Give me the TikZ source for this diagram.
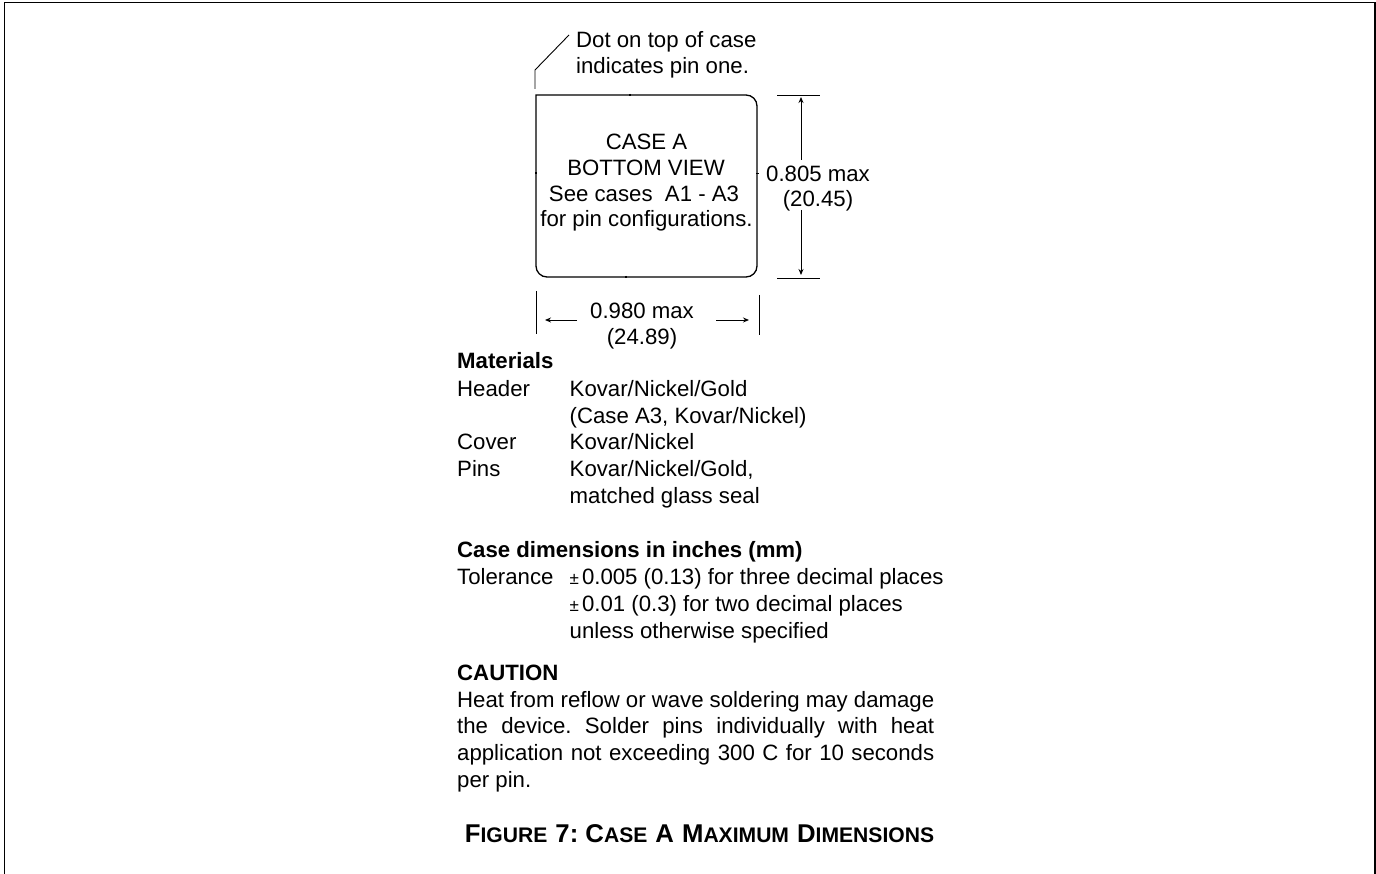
\documentclass[tikz,border=0pt]{standalone}
\usepackage{fontspec}
\usetikzlibrary{arrows.meta}
\setmainfont{Liberation Sans}
\frenchspacing
\newcommand{\bodysize}{\fontsize{22.2}{26.9}\selectfont}
\newcommand{\titlecaps}[2]{{\fontsize{25.7}{28}\selectfont #1}{\fontsize{21.1}{28}\selectfont #2}}
\newcommand{\plusminus}{{\fontsize{17}{20}\selectfont ±}\kern3pt}
\begin{document}
\begin{tikzpicture}[x=1pt,y=-1pt,>={Stealth[length=6pt,width=5pt]},
    txt/.style={anchor=base west,inner sep=0pt,font=\bodysize},
    ctr/.style={anchor=base,inner sep=0pt,font=\bodysize},
    head/.style={txt,font=\bodysize\bfseries},
    outline/.style={line width=1.3pt},
    thin line/.style={line width=0.9pt}]
  \useasboundingbox (0,0) rectangle (1376,874);
  \draw [line width=1.4pt] (4.5,874)--(4.5,2.5)--(1375,2.5)--(1375,874);
  % leader to pin one
  \coordinate (lead0) at (535,89);
  \coordinate (lead1) at (535,70);
  \coordinate (lead2) at (569,35);
  \draw [thin line] (lead0)--(lead1)--(lead2);
  \node [txt] (dot1) at (576,48) {Dot on top of case};
  \node [txt] (dot2) at (576,74) {indicates pin one.};
  % case outline
  \draw [outline] (536,95) [rounded corners=11pt] -- (757,95) -- (757,277) -- (536,277) -- (536,200) [sharp corners] -- (536,95) -- (560,95);
  \draw [outline] (630,94)--(630,96);
  \draw [outline] (626,276)--(626,278);
  \draw [outline] (535,173)--(537,173);
  \draw [thin line] (756,173)--(759,173);
  \node [ctr] (case1) at (646.5,150) {CASE A};
  \node [ctr] (case2) at (646,176) {BOTTOM VIEW};
  \node [ctr] (case3) at (644,201.5) {See cases~ A1 - A3};
  \node [ctr] (case4) at (646.5,226.5) {for pin configurations.};
  % height
  \coordinate (htop0) at (777,95); \coordinate (htop1) at (820,95);
  \coordinate (hbot0) at (777,278); \coordinate (hbot1) at (820,278);
  \draw [thin line] (htop0)--(htop1);
  \draw [thin line] (hbot0)--(hbot1);
  \node [ctr] (hval1) at (818,182) {0.805 max};
  \node [ctr] (hval2) at (818,207) {(20.45)};
  \draw [thin line,->] (801,160)--(801,97);
  \draw [thin line,->] (801,210)--(801,275);
  % width
  \draw [thin line] (536.5,291)--(536.5,334);
  \draw [thin line] (759.5,295)--(759.5,335);
  \node [ctr] (wval1) at (642,319) {0.980 max};
  \node [ctr] (wval2) at (642,345) {(24.89)};
  \draw [thin line,->] (577,320)--(545,320);
  \draw [thin line,->] (716,320)--(749,320);
  % materials
  \node [head] (mat) at (457,369) {Materials};
  \node [txt] (hdr) at (457,396) {Header};
  \node [txt] (hdr1) at (569.5,396) {Kovar/Nickel/Gold};
  \node [txt] (hdr2) at (569.5,423) {(Case A3, Kovar/Nickel)};
  \node [txt] (cov) at (457,449) {Cover};
  \node [txt] (cov1) at (569.5,449) {Kovar/Nickel};
  \node [txt] (pin) at (457,476) {Pins};
  \node [txt] (pin1) at (569.5,476) {Kovar/Nickel/Gold,};
  \node [txt] (pin2) at (569.5,503) {matched glass seal};
  % dimensions
  \node [head] (dim) at (457,557) {Case dimensions in inches (mm)};
  \node [txt] (tol) at (457,584) {Tolerance};
  \node [txt] (tol1) at (569.5,584) {\plusminus 0.005 (0.13) for three decimal places};
  \node [txt] (tol2) at (569.5,611) {\plusminus 0.01 (0.3) for two decimal places};
  \node [txt] (tol3) at (569.5,638) {unless otherwise specified};
  % caution
  \node [head] (cau) at (457,680) {CAUTION};
  \node [txt] (cau1) at (457,707) {\hbox to 477pt{Heat from reflow or wave soldering may damage}};
  \node [txt] (cau2) at (457,733.5) {\hbox to 477pt{the device. Solder pins individually with heat}};
  \node [txt] (cau3) at (457,760) {\hbox to 477pt{application not exceeding 300 C for 10 seconds}};
  \node [txt] (cau4) at (457,787) {per pin.};
  \node [anchor=base,inner sep=0pt,font=\bfseries\fontsize{29}{30}\selectfont] (fig) at (699.5,842.5)
    {\titlecaps{F}{IGURE} \titlecaps{7: C}{ASE} \titlecaps{A}{} \titlecaps{M}{AXIMUM} \titlecaps{D}{IMENSIONS}};
\end{tikzpicture}
\end{document}
